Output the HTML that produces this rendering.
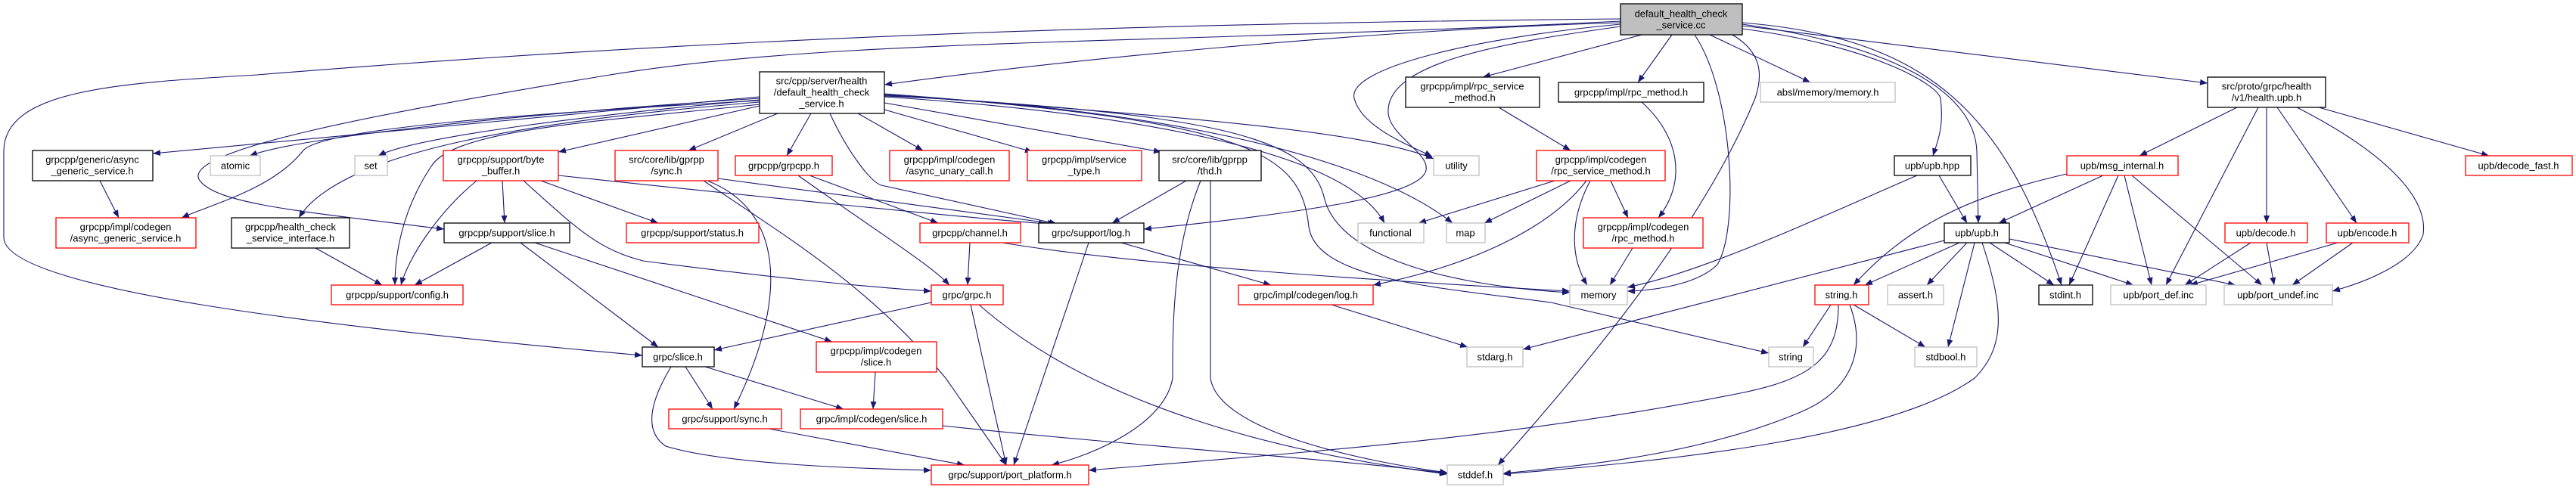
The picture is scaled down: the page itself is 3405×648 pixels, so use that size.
<!DOCTYPE html>
<html><head><meta charset="utf-8"><style>
html,body{margin:0;padding:0;background:#fff;width:3405px;height:648px;overflow:hidden}
svg{display:block}
text{font-family:"Liberation Sans",sans-serif;font-size:13px;fill:#000;text-anchor:middle;dominant-baseline:central}
.e{fill:none;stroke:#191970;stroke-width:1.1;marker-end:url(#a)}
.b{fill:#fff;stroke:#000;stroke-width:1.3}
.r{fill:#fff;stroke:#ff0000;stroke-width:1.3}
.g{fill:#fff;stroke:#bfbfbf;stroke-width:1.3}
.m{fill:#bfbfbf;stroke:#000;stroke-width:1.3}
</style></head><body>
<svg width="3405" height="648" viewBox="0 0 3405 648" xmlns="http://www.w3.org/2000/svg">
<defs><marker id="a" markerUnits="userSpaceOnUse" markerWidth="11" markerHeight="8" refX="10" refY="4" orient="auto"><path d="M0,0 L10,4 L0,8 z" fill="#191970"/></marker></defs>
<g>
<!-- main -->
<path class="e" d="M2142,30 C1800,40 1400,80 1169,112"/>
<path class="e" d="M2170,46 L1960,102"/>
<path class="e" d="M2210,46 L2165,109"/>
<path class="e" d="M2260,46 L2393,109"/>
<path class="e" d="M2240,46 C2290,120 2300,300 2270,350 C2240,380 2170,385 2151,385"/>
<path class="e" d="M2142,32 C1950,50 1780,90 1790,130 C1800,170 1870,195 1893,207"/>
<path class="e" d="M2142,35 C2000,55 1830,80 1835,150 C1840,200 1980,230 1770,270 C1650,290 1560,298 1512,303"/>
<path class="e" d="M2142,28 C1500,60 1100,50 800,100 C500,150 230,200 265,240 C290,270 400,280 587,303"/>
<path class="e" d="M2142,25 C1600,30 1000,45 340,99 C150,110 5,120 5,200 L5,314 C5,380 400,430 849,470"/>
<path class="e" d="M2290,46 C2330,70 2330,100 2320,130 C2250,300 2100,480 1980,615"/>
<path class="e" d="M2303,38 C2470,60 2560,110 2565,130 C2570,170 2560,190 2555,206"/>
<path class="e" d="M2303,32 C2500,60 2610,120 2613,200 L2615,295"/>
<path class="e" d="M2303,30 C2550,50 2650,150 2725,377"/>
<path class="e" d="M2303,34 L2918,110"/>
<!-- health.h -->
<path class="e" d="M1004,128 L202,203"/>
<path class="e" d="M1004,130 C700,150 400,180 330,206"/>
<path class="e" d="M1004,132 C800,150 550,180 500,206"/>
<path class="e" d="M1004,140 L738,201"/>
<path class="e" d="M1004,133 C700,150 420,170 400,200 C360,250 280,270 240,288"/>
<path class="e" d="M1004,135 C700,160 450,200 395,288"/>
<path class="e" d="M1004,138 C800,160 600,170 570,220 C530,280 522,340 522,377"/>
<path class="e" d="M1028,150 L910,199"/>
<path class="e" d="M1072,150 L1040,206"/>
<path class="e" d="M1134,150 L1220,199"/>
<path class="e" d="M1169,145 L1365,201"/>
<path class="e" d="M1169,136 L1535,201"/>
<path class="e" d="M1097,150 C1120,200 1150,240 1165,245 L1397,296"/>
<path class="e" d="M1169,125 C1500,150 1800,170 1895,210"/>
<path class="e" d="M1169,128 C1500,150 1780,200 1830,295"/>
<path class="e" d="M1169,127 C1500,140 1800,200 1920,295"/>
<path class="e" d="M1169,126 C1600,150 1730,180 1750,260 C1770,350 1950,380 2075,387"/>
<path class="e" d="M1169,124 C1650,160 1720,200 1730,300 C1740,370 1900,380 2050,400 L2338,467"/>
<!-- byte_buffer -->
<path class="e" d="M630,239 C580,280 540,340 530,377"/>
<path class="e" d="M664,239 L667,295"/>
<path class="e" d="M715,239 L870,295"/>
<path class="e" d="M692,239 C760,300 790,330 850,345 C1000,365 1150,380 1231,385"/>
<path class="e" d="M738,232 C1000,260 1300,290 1383,296"/>
<path class="e" d="M132,239 L157,288"/>
<path class="e" d="M417,328 L505,377"/>
<path class="e" d="M650,321 L548,377"/>
<path class="e" d="M688,321 L870,459"/>
<path class="e" d="M707,321 L1100,452"/>
<path class="e" d="M949,236 L1395,296"/>
<path class="e" d="M935,239 C1040,280 1040,400 970,541"/>
<path class="e" d="M930,239 C1050,320 1150,380 1250,500 L1330,615"/>
<path class="e" d="M1070,232 L1240,295"/>
<path class="e" d="M1055,232 C1150,300 1230,350 1255,377"/>
<path class="e" d="M1282,321 L1279,377"/>
<path class="e" d="M1325,321 C1500,350 1800,370 2075,385"/>
<path class="e" d="M1568,239 L1470,295"/>
<path class="e" d="M1587,239 C1550,330 1550,430 1550,500 C1540,560 1450,600 1390,615"/>
<path class="e" d="M1600,239 L1600,500 C1610,570 1800,610 1913,625"/>
<path class="e" d="M1439,321 L1340,615"/>
<path class="e" d="M1482,321 L1680,377"/>
<path class="e" d="M1231,400 L944,463"/>
<path class="e" d="M1283,403 L1330,615"/>
<path class="e" d="M1294,403 C1450,540 1700,600 1913,627"/>
<path class="e" d="M906,485 L942,541"/>
<path class="e" d="M932,485 L1115,541"/>
<path class="e" d="M887,485 C860,530 850,570 880,590 C960,615 1150,620 1231,622"/>
<path class="e" d="M1157,492 L1154,541"/>
<path class="e" d="M1016,567 L1275,615"/>
<path class="e" d="M1246,563 C1500,590 1800,610 1913,626"/>
<path class="e" d="M1760,403 L1940,459"/>
<path class="e" d="M1981,142 L2076,199"/>
<path class="e" d="M2170,135 C2220,180 2230,240 2192,288"/>
<path class="e" d="M2055,239 L1875,295"/>
<path class="e" d="M2076,239 L1962,295"/>
<path class="e" d="M2102,239 C2075,290 2075,340 2098,377"/>
<path class="e" d="M2097,239 C2050,300 1950,350 1815,377"/>
<path class="e" d="M2129,239 L2152,288"/>
<path class="e" d="M2158,328 L2128,377"/>
<path class="e" d="M2563,232 L2600,295"/>
<path class="e" d="M2534,232 C2400,290 2250,360 2151,380"/>
<path class="e" d="M2957,142 L2828,206"/>
<path class="e" d="M2985,142 L2863,377"/>
<path class="e" d="M2996,142 L2996,295"/>
<path class="e" d="M3010,142 L3115,295"/>
<path class="e" d="M3065,142 L3290,206"/>
<path class="e" d="M3036,142 C3150,200 3210,260 3203,310 C3190,350 3120,375 3083,385"/>
<path class="e" d="M2780,232 L2642,295"/>
<path class="e" d="M2800,232 L2735,377"/>
<path class="e" d="M2808,232 L2844,377"/>
<path class="e" d="M2818,232 L2990,377"/>
<path class="e" d="M2732,230 C2600,260 2520,300 2450,377"/>
<path class="e" d="M2590,321 L2465,377"/>
<path class="e" d="M2600,321 L2547,377"/>
<path class="e" d="M2610,321 L2575,459"/>
<path class="e" d="M2630,321 L2715,377"/>
<path class="e" d="M2650,321 L2820,377"/>
<path class="e" d="M2656,316 L2955,377"/>
<path class="e" d="M2620,321 C2650,410 2650,460 2610,500 C2500,580 2200,610 1987,627"/>
<path class="e" d="M2570,318 L2013,462"/>
<path class="e" d="M2975,321 L2888,377"/>
<path class="e" d="M2996,321 L3006,377"/>
<path class="e" d="M3090,321 L2895,377"/>
<path class="e" d="M3110,321 L3030,377"/>
<path class="e" d="M2420,403 L2383,459"/>
<path class="e" d="M2450,403 L2545,459"/>
<path class="e" d="M2430,403 C2430,470 2400,500 2300,520 C2000,580 1700,600 1439,622"/>
<path class="e" d="M2445,403 C2470,470 2440,520 2380,545 C2250,600 2100,615 1987,626"/>
</g>
<g>
<rect class="m" x="2142" y="5" width="161" height="41"/><text x="2222" y="18">default_health_check</text><text x="2222" y="33">_service.cc</text>
<rect class="b" x="1004" y="95" width="165" height="55"/><text x="1086" y="107">src/cpp/server/health</text><text x="1086" y="122">/default_health_check</text><text x="1086" y="137">_service.h</text>
<rect class="b" x="43" y="199" width="159" height="40"/><text x="122" y="211">grpcpp/generic/async</text><text x="122" y="226">_generic_service.h</text>
<rect class="g" x="278" y="206" width="66" height="26"/><text x="311" y="219">atomic</text>
<rect class="g" x="469" y="206" width="43" height="26"/><text x="490" y="219">set</text>
<rect class="r" x="586" y="199" width="152" height="40"/><text x="662" y="211">grpcpp/support/byte</text><text x="662" y="226">_buffer.h</text>
<rect class="r" x="813" y="199" width="136" height="40"/><text x="881" y="211">src/core/lib/gprpp</text><text x="881" y="226">/sync.h</text>
<rect class="r" x="972" y="206" width="128" height="26"/><text x="1036" y="219">grpcpp/grpcpp.h</text>
<rect class="r" x="1176" y="199" width="158" height="40"/><text x="1255" y="211">grpcpp/impl/codegen</text><text x="1255" y="226">/async_unary_call.h</text>
<rect class="r" x="1358" y="199" width="151" height="40"/><text x="1433" y="211">grpcpp/impl/service</text><text x="1433" y="226">_type.h</text>
<rect class="b" x="1532" y="199" width="135" height="40"/><text x="1599" y="211">src/core/lib/gprpp</text><text x="1599" y="226">/thd.h</text>
<rect class="g" x="1895" y="206" width="60" height="26"/><text x="1925" y="219">utility</text>
<rect class="b" x="1858" y="102" width="177" height="40"/><text x="1946" y="114">grpcpp/impl/rpc_service</text><text x="1946" y="129">_method.h</text>
<rect class="b" x="2060" y="109" width="192" height="26"/><text x="2156" y="122">grpcpp/impl/rpc_method.h</text>
<rect class="g" x="2327" y="109" width="178" height="26"/><text x="2416" y="122">absl/memory/memory.h</text>
<rect class="r" x="2031" y="199" width="170" height="40"/><text x="2116" y="211">grpcpp/impl/codegen</text><text x="2116" y="226">/rpc_service_method.h</text>
<rect class="b" x="2504" y="206" width="101" height="26"/><text x="2554" y="219">upb/upb.hpp</text>
<rect class="b" x="2918" y="102" width="156" height="40"/><text x="2996" y="114">src/proto/grpc/health</text><text x="2996" y="129">/v1/health.upb.h</text>
<rect class="r" x="2732" y="206" width="147" height="26"/><text x="2805" y="219">upb/msg_internal.h</text>
<rect class="r" x="3259" y="206" width="141" height="26"/><text x="3329" y="219">upb/decode_fast.h</text>
<rect class="r" x="74" y="288" width="185" height="40"/><text x="166" y="300">grpcpp/impl/codegen</text><text x="166" y="315">/async_generic_service.h</text>
<rect class="b" x="306" y="288" width="156" height="40"/><text x="384" y="300">grpcpp/health_check</text><text x="384" y="315">_service_interface.h</text>
<rect class="b" x="587" y="295" width="166" height="26"/><text x="670" y="308">grpcpp/support/slice.h</text>
<rect class="r" x="828" y="295" width="175" height="26"/><text x="915" y="308">grpcpp/support/status.h</text>
<rect class="r" x="1216" y="295" width="133" height="26"/><text x="1282" y="308">grpcpp/channel.h</text>
<rect class="b" x="1373" y="295" width="139" height="26"/><text x="1442" y="308">grpc/support/log.h</text>
<rect class="g" x="1795" y="295" width="87" height="26"/><text x="1838" y="308">functional</text>
<rect class="g" x="1912" y="295" width="51" height="26"/><text x="1937" y="308">map</text>
<rect class="r" x="2093" y="288" width="158" height="40"/><text x="2172" y="300">grpcpp/impl/codegen</text><text x="2172" y="315">/rpc_method.h</text>
<rect class="b" x="2570" y="295" width="86" height="26"/><text x="2613" y="308">upb/upb.h</text>
<rect class="r" x="2941" y="295" width="109" height="26"/><text x="2995" y="308">upb/decode.h</text>
<rect class="r" x="3075" y="295" width="109" height="26"/><text x="3129" y="308">upb/encode.h</text>
<rect class="r" x="438" y="377" width="174" height="26"/><text x="525" y="390">grpcpp/support/config.h</text>
<rect class="r" x="1231" y="377" width="95" height="26"/><text x="1278" y="390">grpc/grpc.h</text>
<rect class="r" x="1637" y="377" width="178" height="26"/><text x="1726" y="390">grpc/impl/codegen/log.h</text>
<rect class="g" x="2075" y="377" width="76" height="26"/><text x="2113" y="390">memory</text>
<rect class="r" x="2399" y="377" width="71" height="26"/><text x="2434" y="390">string.h</text>
<rect class="g" x="2495" y="377" width="74" height="26"/><text x="2532" y="390">assert.h</text>
<rect class="b" x="2695" y="377" width="71" height="26"/><text x="2730" y="390">stdint.h</text>
<rect class="g" x="2790" y="377" width="126" height="26"/><text x="2853" y="390">upb/port_def.inc</text>
<rect class="g" x="2940" y="377" width="143" height="26"/><text x="3011" y="390">upb/port_undef.inc</text>
<rect class="b" x="849" y="459" width="95" height="26"/><text x="896" y="472">grpc/slice.h</text>
<rect class="r" x="1079" y="452" width="159" height="40"/><text x="1158" y="464">grpcpp/impl/codegen</text><text x="1158" y="479">/slice.h</text>
<rect class="g" x="1939" y="459" width="74" height="26"/><text x="1976" y="472">stdarg.h</text>
<rect class="g" x="2338" y="459" width="59" height="26"/><text x="2367" y="472">string</text>
<rect class="g" x="2531" y="459" width="82" height="26"/><text x="2572" y="472">stdbool.h</text>
<rect class="r" x="884" y="541" width="149" height="26"/><text x="958" y="554">grpc/support/sync.h</text>
<rect class="r" x="1058" y="541" width="188" height="26"/><text x="1152" y="554">grpc/impl/codegen/slice.h</text>
<rect class="r" x="1231" y="615" width="208" height="26"/><text x="1335" y="628">grpc/support/port_platform.h</text>
<rect class="g" x="1913" y="615" width="74" height="26"/><text x="1950" y="628">stddef.h</text>
</g>
</svg>
</body></html>
